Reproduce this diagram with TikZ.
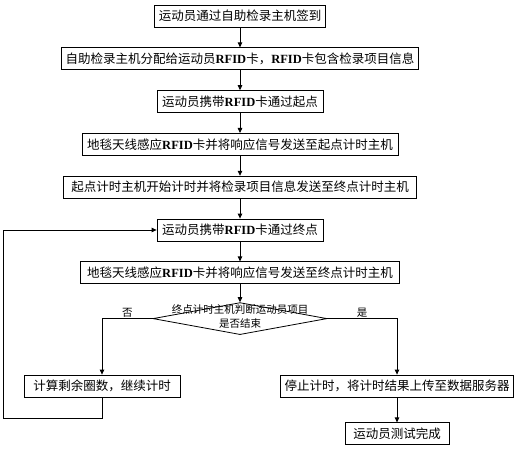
\documentclass[tikz,border=0pt]{standalone}
\usepackage{fontspec}
\setmainfont{Liberation Serif}
\newfontfamily\cjk{Noto Sans CJK SC}
\usetikzlibrary{shapes.geometric, arrows.meta, positioning, calc}
\newcommand{\rfid}{\textbf{\rmfamily RFID}}

\begin{document}
\begin{tikzpicture}[
    x=1pt, y=1pt,
    node distance=20pt,
    process/.style={rectangle, minimum height=22pt, inner xsep=4pt, inner ysep=0pt, text centered, draw=black, line width=0.8pt, font=\cjk\fontsize{12.5}{15}\selectfont},
    decision/.style={diamond, minimum width=174pt, minimum height=32pt, inner sep=0pt, draw=black, line width=0.8pt},
    small/.style={font=\cjk\fontsize{10.5}{14}\selectfont},
    arrow/.style={line width=0.8pt, -{Triangle[length=5pt, width=4.5pt]}},
]
    \useasboundingbox (0,0) rectangle (518,450);

    % Check-in and start
    \node (checkin) [process, minimum width=167pt] at (240,434) {运动员通过自助检录主机签到};
    \node (assign) [process, minimum width=347pt, below=of checkin] {自助检录主机分配给运动员\rfid 卡，\rfid 卡包含检录项目信息};
    \node (pass_start) [process, minimum width=166pt, below=of assign] {运动员携带\rfid 卡通过起点};
    \node (sense_start) [process, minimum width=316pt, below=of pass_start] {地毯天线感应\rfid 卡并将响应信号发送至起点计时主机};
    \node (start_timer) [process, minimum width=353pt, below=of sense_start] {起点计时主机开始计时并将检录项目信息发送至终点计时主机};

    % Finish line
    \node (pass_end) [process, minimum width=166pt, below=of start_timer] {运动员携带\rfid 卡通过终点};
    \node (sense_end) [process, minimum width=319pt, below=of pass_end] {地毯天线感应\rfid 卡并将响应信号发送至终点计时主机};
    \node (judge) [decision, below=18pt of sense_end] {};
    \node (judge_text) [small, align=center, yshift=2pt] at (judge) {终点计时主机判断运动员项目\\是否结束};

    % Branches
    \node (count) [process, minimum width=156pt] at (102,64) {计算剩余圈数，继续计时};
    \node (stop) [process, minimum width=229pt] at (397,64) {停止计时，将计时结果上传至数据服务器};
    \node (done) [process, minimum width=104pt, below=25pt of stop] {运动员测试完成};
    \coordinate (loop) at (3,32);

    \draw [arrow] (checkin) -- (assign);
    \draw [arrow] (assign) -- (pass_start);
    \draw [arrow] (pass_start) -- (sense_start);
    \draw [arrow] (sense_start) -- (start_timer);
    \draw [arrow] (start_timer) -- (pass_end);
    \draw [arrow] (pass_end) -- (sense_end);
    \draw [arrow] (sense_end) -- (judge);
    \draw [arrow] (judge.west) -| node [small, pos=0.25, above, inner sep=1pt] {否} (count.north);
    \draw [arrow] (judge.east) -| node [small, pos=0.25, above, inner sep=1pt] {是} (stop.north);
    \draw [arrow] (stop) -- (done);
    \draw [arrow] (count.south) |- (loop) |- (pass_end.west);

\end{tikzpicture}
\end{document}
